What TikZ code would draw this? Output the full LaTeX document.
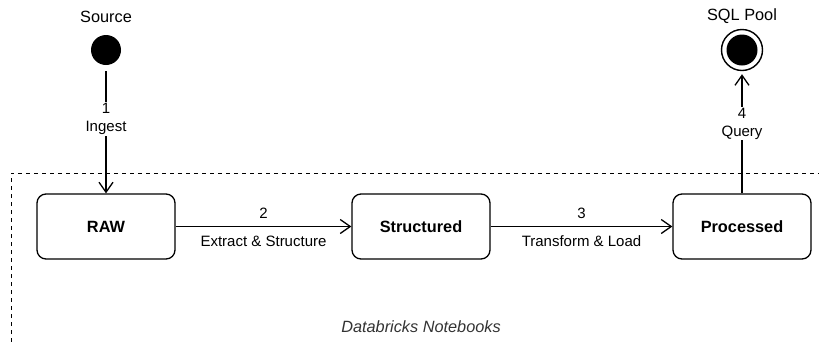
\documentclass[tikz,border=0pt]{standalone}
\usepackage{fontspec}
\setmainfont{Liberation Sans}
\usetikzlibrary{arrows.meta}
\begin{document}
\begin{tikzpicture}[x=1pt,y=-1pt,
  stage/.style={draw, line width=1.3pt, rounded corners=9pt,
    minimum width=138pt, minimum height=65pt, inner sep=0pt,
    font=\fontsize{16.3}{19}\selectfont\bfseries},
  flow/.style={line width=1.3pt,
    -{Straight Barb[length=10pt,width=14pt,line width=1.3pt]}},
  lbl/.style={font=\fontsize{15}{18}\selectfont, inner sep=1pt, align=center},
  title/.style={font=\fontsize{16.3}{19}\selectfont, inner sep=0pt},
  boundary/.style={line width=1pt, dash pattern=on 4pt off 4pt}]

\useasboundingbox (0,0) rectangle (819,341);

% notebook boundary (open towards the right and bottom)
\coordinate (nbBottom) at (11,350);
\coordinate (nbCorner) at (11,173);
\coordinate (nbRight) at (830,173);
\draw[boundary] (nbBottom) -- (nbCorner) -- (nbRight);
\node[font=\fontsize{16.3}{19}\selectfont\itshape, text=black!80] (nbTitle)
  at (421,327) {Databricks Notebooks};

% start and end states
\node[title] (srcTitle) at (106,17) {Source};
\node[circle, fill=black, minimum size=30pt, inner sep=0pt] (src) at (106,50) {};

\node[title] (sqlTitle) at (742,16) {SQL Pool};
\node[circle, draw, line width=1.4pt, fill=white, minimum size=41pt, inner sep=0pt]
  (sql) at (742,50) {};
\node[circle, fill=black, minimum size=31pt, inner sep=0pt] (sqlCore) at (742,50) {};

% stages
\node[stage] (raw) at (106,226.5) {RAW};
\node[stage] (struct) at (421,226.5) {Structured};
\node[stage] (proc) at (742,226.5) {Processed};

% transitions
\draw[flow, shorten <=6pt] (src) -- (raw);
\node[lbl, fill=white] (l1) at (106,119) {1\\Ingest};

\draw[flow] (raw) -- (struct);
\node[lbl] (l2a) at (263.5,213) {2};
\node[lbl] (l2b) at (263.5,241) {Extract \& Structure};

\draw[flow] (struct) -- (proc);
\node[lbl] (l3a) at (581.5,213) {3};
\node[lbl] (l3b) at (581.5,241) {Transform \& Load};

\draw[flow, shorten >=3pt] (proc) -- (sql);
\node[lbl, fill=white] (l4) at (742,123.5) {4\\Query};
\end{tikzpicture}
\end{document}
